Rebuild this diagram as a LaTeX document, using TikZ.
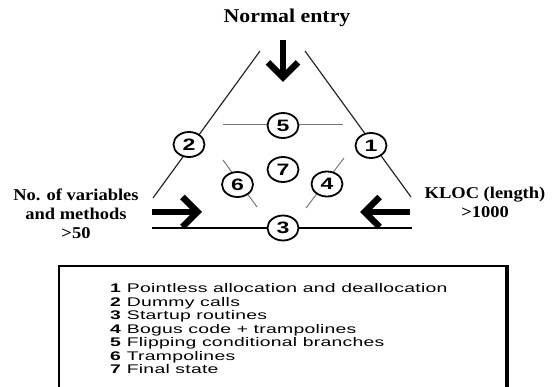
\documentclass[tikz,border=0pt]{standalone}
\usepackage{fontspec}
\usepackage{tikz}
\usetikzlibrary{arrows.meta,positioning,calc,backgrounds,shapes.geometric}
\setmainfont{Liberation Serif}
\newfontfamily\labelfont[FakeStretch=1.12]{Liberation Serif}
\newfontfamily\stagefont[FakeStretch=1.4]{Liberation Sans}
\newfontfamily\legendfont[FakeStretch=1.55,LetterSpace=2]{Liberation Sans}
\definecolor{sideGray}{RGB}{40,40,40}
\definecolor{guideGray}{RGB}{120,120,120}
\tikzset{
  stage node/.style={ellipse,draw=black,line width=1.8pt,fill=white,inner sep=0pt,minimum width=31pt,minimum height=25pt,font=\stagefont\bfseries\fontsize{16.5}{18}\selectfont},
  side label/.style={align=center,font=\labelfont\bfseries\fontsize{16.5}{19}\selectfont},
  entry arrow/.style={-{Straight Barb[length=15pt,width=30pt]},line width=6.5pt},
  side line/.style={draw=sideGray,line width=1.2pt},
  guide line/.style={draw=guideGray,line width=1pt},
  base line/.style={draw=black,line width=1.6pt},
  legend box/.style={draw=black,line width=1.6pt,minimum width=447pt,minimum height=130pt,inner sep=0pt},
  legend item/.style={anchor=base west,inner sep=0pt,font=\legendfont\fontsize{12.5}{14}\selectfont}
}
\begin{document}
\begin{tikzpicture}[x=1pt,y=-1pt]
    \useasboundingbox (0,0) rectangle (552,387);
    % labels
    \node[side label,font=\labelfont\bfseries\fontsize{19.5}{22}\selectfont,anchor=base] (entrylabel) at (287,23) {Normal entry};
    \node[side label,anchor=base] (varlabel) at (76,239) {No. of variables\\and methods\\>50};
    \node[side label,anchor=base] (kloclabel) at (485,218) {KLOC (length)\\>1000};
    % stages
    \node[stage node] (s1) at (371,145.5) {1};
    \node[stage node] (s2) at (189,144.5) {2};
    \node[stage node] (s3) at (283,228) {3};
    \node[stage node] (s4) at (327,184) {4};
    \node[stage node] (s5) at (283,125.5) {5};
    \node[stage node] (s6) at (237.5,184.5) {6};
    \node[stage node] (s7) at (283,169.5) {7};
    % end points of the lines
    \coordinate (lefttop) at (260,51);
    \coordinate (leftfoot) at (153,198);
    \coordinate (righttop) at (305,51);
    \coordinate (rightfoot) at (411,197);
    \coordinate (basewest) at (152,228);
    \coordinate (baseeast) at (412,228);
    \coordinate (guidewest) at (223,125);
    \coordinate (guideeast) at (343,125);
    \coordinate (sixtop) at (223,160);
    \coordinate (sixfoot) at (257,207);
    \coordinate (fourtop) at (344,158);
    \coordinate (fourfoot) at (306,208);
    \begin{scope}[on background layer]
      \draw[side line] (lefttop) -- (leftfoot);
      \draw[side line] (righttop) -- (rightfoot);
      \draw[base line] (basewest) -- (baseeast);
      \draw[guide line] (guidewest) -- (guideeast);
      \draw[guide line] (sixtop) -- (sixfoot);
      \draw[guide line] (fourtop) -- (fourfoot);
    \end{scope}
    % arrows
    \coordinate (entrystart) at (283,40);
    \coordinate (entrytip) at (283,82);
    \coordinate (varstart) at (152,212);
    \coordinate (vartip) at (202,212);
    \coordinate (klocstart) at (410,212);
    \coordinate (kloctip) at (360,212);
    \draw[entry arrow] (entrystart) -- (entrytip);
    \draw[entry arrow] (varstart) -- (vartip);
    \draw[entry arrow] (klocstart) -- (kloctip);
    % legend
    \node[legend box,anchor=north west] (legend) at (58,265) {};
    \draw[line width=3pt] ([xshift=0.7pt]legend.north east) -- ([xshift=0.7pt]legend.south east);
    \foreach \n/\txt in {1/Pointless allocation and deallocation,2/Dummy calls,3/Startup routines,4/Bogus code + trampolines,5/Flipping conditional branches,6/Trampolines,7/Final state}
      \node[legend item] (item\n) at (110,{292.5+13.55*(\n-1)}) {\textbf{\n} \txt};
  \end{tikzpicture}
\end{document}
